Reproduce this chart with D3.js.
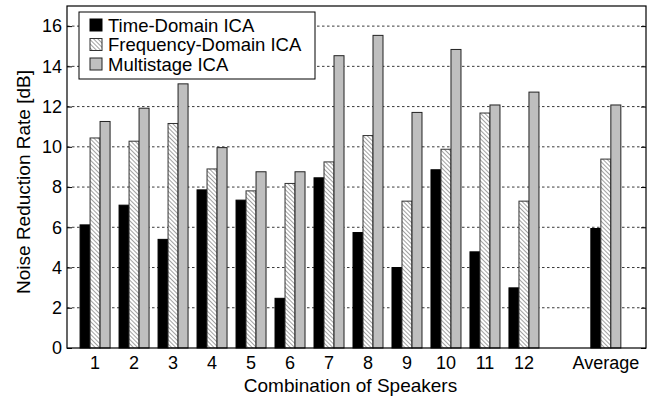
<!DOCTYPE html>
<html lang="en">
<head>
  <meta charset="UTF-8">
  <title>Noise Reduction Rate</title>
  <script src="https://d3js.org/d3.v7.min.js"></script>
  <style>
    body { margin: 0; background: #fff; }
    svg { display: block; font-family: "Liberation Sans", Arial, sans-serif; }
    .grid line { stroke: #222; stroke-width: 0.9; stroke-dasharray: 2.5,2.5; }
    .tick-label { font-size: 18px; fill: #000; }
    .axis-title { font-size: 19px; fill: #000; }
    .legend-text { font-size: 18.5px; fill: #000; }
  </style>
</head>
<body>
<svg id="chart"></svg>
<script>
const categories = ["1", "2", "3", "4", "5", "6", "7", "8", "9", "10", "11", "12", "Average"];
const slots = [1, 2, 3, 4, 5, 6, 7, 8, 9, 10, 11, 12, 14.1];
const seriesNames = ["Time-Domain ICA", "Frequency-Domain ICA", "Multistage ICA"];
const timeDomain = [6.12, 7.1, 5.4, 7.86, 7.35, 2.47, 8.46, 5.74, 4.0, 8.86, 4.78, 2.99, 5.94];
const freqDomain = [10.44, 10.28, 11.16, 8.9, 7.81, 8.18, 9.25, 10.56, 7.3, 9.88, 11.68, 7.3, 9.39];
const multistage = [11.26, 11.92, 13.13, 9.96, 8.76, 8.76, 14.53, 15.54, 11.71, 14.84, 12.08, 12.72, 12.08];
const yTicks = [0, 2, 4, 6, 8, 10, 12, 14, 16];

const W = 659, H = 397;
const margin = { top: 6, right: 13, bottom: 49, left: 67 };
const w = W - margin.left - margin.right;
const h = H - margin.top - margin.bottom;

const svg = d3.select("#chart").attr("width", W).attr("height", H);

const defs = svg.append("defs");
const hatch = defs.append("pattern")
  .attr("id", "hatch")
  .attr("patternUnits", "userSpaceOnUse")
  .attr("width", 3).attr("height", 3)
  .attr("patternTransform", "rotate(-45)");
hatch.append("rect").attr("width", 3).attr("height", 3).attr("fill", "#fff");
hatch.append("line").attr("x1", 0).attr("y1", 0).attr("x2", 0).attr("y2", 3)
  .attr("stroke", "#444").attr("stroke-width", 1);

const g = svg.append("g").attr("transform", `translate(${margin.left},${margin.top})`);

const x = d3.scaleLinear().domain([0.28, 15.13]).range([0, w]);
const y = d3.scaleLinear().domain([0, 17]).range([h, 0]);

// grid
g.append("g").attr("class", "grid")
  .selectAll("line")
  .data(yTicks.filter(d => d > 0))
  .join("line")
  .attr("x1", 0).attr("x2", w)
  .attr("y1", d => y(d)).attr("y2", d => y(d));

const barW = 10;
const series = [
  { name: seriesNames[0], values: timeDomain, fill: "#000", stroke: "#000" },
  { name: seriesNames[1], values: freqDomain, fill: "url(#hatch)", stroke: "#333" },
  { name: seriesNames[2], values: multistage, fill: "#bfbfbf", stroke: "#222" }
];

series.forEach((s, si) => {
  g.append("g").selectAll("rect")
    .data(s.values)
    .join("rect")
    .attr("x", (d, i) => x(slots[i]) + (si - 1.5) * barW)
    .attr("y", d => y(d))
    .attr("width", barW)
    .attr("height", d => h - y(d))
    .attr("fill", s.fill)
    .attr("stroke", s.stroke)
    .attr("stroke-width", 1);
});

// frame
g.append("rect").attr("width", w).attr("height", h)
  .attr("fill", "none").attr("stroke", "#000").attr("stroke-width", 1.2);

// y axis
const yAxis = g.append("g").call(d3.axisLeft(y).tickValues(yTicks).tickSize(-5).tickPadding(5));
yAxis.select(".domain").remove();
yAxis.selectAll("text").attr("class", "tick-label").attr("font-size", null).attr("font-family", null);
yAxis.attr("font-size", null).attr("font-family", null);
const yAxisR = g.append("g").attr("transform", `translate(${w},0)`)
  .call(d3.axisRight(y).tickValues(yTicks).tickSize(-5).tickFormat(""));
yAxisR.select(".domain").remove();

// x labels
g.append("g").selectAll("text")
  .data(categories)
  .join("text")
  .attr("class", "tick-label")
  .attr("x", (d, i) => x(slots[i]))
  .attr("y", h + 21)
  .attr("text-anchor", "middle")
  .text(d => d);

g.append("text").attr("class", "axis-title")
  .attr("x", w / 2 - 6).attr("y", h + 44)
  .attr("text-anchor", "middle")
  .text("Combination of Speakers");

svg.append("text").attr("class", "axis-title")
  .attr("transform", `translate(30,182) rotate(-90)`)
  .attr("text-anchor", "middle")
  .text("Noise Reduction Rate [dB]");

// legend
const legend = svg.append("g").attr("transform", "translate(79,12)");
legend.append("rect").attr("width", 236).attr("height", 67)
  .attr("fill", "#fff").attr("stroke", "#000").attr("stroke-width", 1);
series.forEach((s, i) => {
  const row = legend.append("g").attr("transform", `translate(11,${13 + i * 19.5})`);
  row.append("rect").attr("x", 0).attr("y", -6).attr("width", 12).attr("height", 12)
    .attr("fill", s.fill).attr("stroke", s.stroke);
  row.append("text").attr("class", "legend-text")
    .attr("x", 18).attr("y", 6.5).text(s.name);
});
</script>
</body>
</html>
